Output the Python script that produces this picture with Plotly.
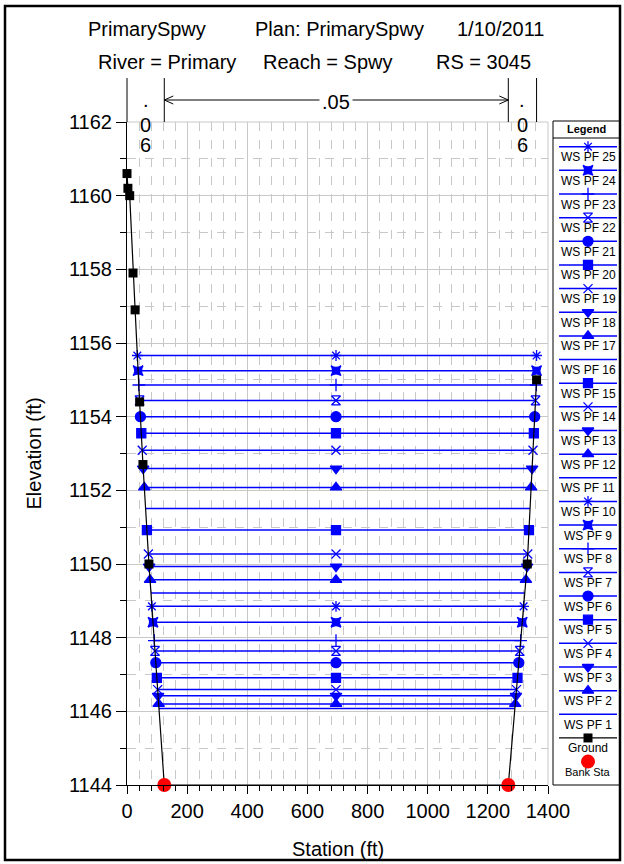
import plotly.graph_objects as go

W, H = 624, 864

# ---------------- data ----------------
ground_sta = [0, 3, 9, 20, 27, 42, 53, 73, 124, 1268, 1331, 1362]
ground_elev = [1160.6, 1160.2, 1160.0, 1157.9, 1156.9, 1154.4, 1152.7, 1150.0,
               1144.0, 1144.0, 1150.0, 1155.0]
bank_sta = [124, 1268]
bank_elev = [1144.0, 1144.0]

profiles = [f"WS PF {i}" for i in range(1, 26)]
ws_elev = [1146.08, 1146.20, 1146.42, 1146.59, 1146.91, 1147.32, 1147.64, 1147.92,
           1148.42, 1148.85, 1149.21, 1149.57, 1149.93, 1150.27, 1150.92, 1151.51,
           1152.08, 1152.59, 1153.09, 1153.55, 1154.00, 1154.44, 1154.86, 1155.25,
           1155.66]
ws_left = [106.3, 105.3, 103.4, 102.0, 99.3, 95.8, 93.1, 90.7, 86.4, 82.8, 79.7,
           76.7, 73.6, 71.0, 66.2, 61.8, 57.6, 53.8, 50.5, 47.5, 44.6, 41.8, 39.2,
           36.9, 34.4]
ws_right = [1289.8, 1291.1, 1293.4, 1295.2, 1298.6, 1302.9, 1306.2, 1309.2, 1314.4,
            1318.9, 1322.7, 1326.5, 1330.3, 1332.7, 1336.7, 1340.4, 1343.9, 1347.1,
            1350.2, 1353.0, 1355.8, 1358.5, 1361.1, 1362.0, 1362.0]
ws_mid = 695

n_breaks = [0, 124, 1268, 1362]
n_values = [".06", ".05", ".06"]

x_ticks = [0, 200, 400, 600, 800, 1000, 1200, 1400]
y_ticks = [1144, 1146, 1148, 1150, 1152, 1154, 1156, 1158, 1160, 1162]

# ---------------- style ----------------
ws_symbol = [None, 'triangle-up', 'triangle-down', 'x-thin-open', 'square', 'circle',
             'hourglass-open', 'cross-thin-open', 'star-square', 'asterisk-open',
             None, 'triangle-up', 'triangle-down', 'x-thin-open', 'square', None,
             'triangle-up', 'triangle-down', 'x-thin-open', 'square', 'circle',
             'hourglass-open', 'cross-thin-open', 'star-square', 'asterisk-open']
BLUE = '#0000FF'
FONT = 'Liberation Sans, Arial, sans-serif'
GRID = '#c8c8c8'
FS = 20
LFS = 12

# plot area in pixels
PL, PR, PT, PB = 127, 548, 122, 785
XMIN, XMAX, YMIN, YMAX = 0, 1400, 1144, 1162


def px(x):
    return x / W


def py(y):
    return 1 - y / H


def sta_px(s):
    return PL + (s - XMIN) / (XMAX - XMIN) * (PR - PL)


def msize(sym):
    if sym == 'square':
        return 9
    if sym == 'circle':
        return 10
    if sym in ('triangle-up', 'triangle-down'):
        return 10
    return 9


def ann(text, x, y, size=FS, **kw):
    d = dict(text=text, x=x, y=y, xref='paper', yref='paper', showarrow=False,
             xanchor='center', yanchor='middle',
             font=dict(family=FONT, size=size, color='black'))
    d.update(kw)
    return d


fig = go.Figure()

# water surface profiles
for name, e, l, r, sym in zip(profiles, ws_elev, ws_left, ws_right, ws_symbol):
    tr = dict(x=[l, ws_mid, r], y=[e, e, e], name=name,
              line=dict(color=BLUE, width=1.5), cliponaxis=False,
              showlegend=False, hoverinfo='name+y')
    if sym:
        tr['mode'] = 'lines+markers'
        tr['marker'] = dict(symbol=sym, size=msize(sym), color=BLUE,
                            line=dict(color=BLUE, width=1.3))
    else:
        tr['mode'] = 'lines'
    fig.add_trace(go.Scatter(**tr))

# ground
fig.add_trace(go.Scatter(x=ground_sta, y=ground_elev, mode='lines+markers', name='Ground',
                         line=dict(color='black', width=1.2),
                         marker=dict(symbol='square', size=9, color='black'),
                         cliponaxis=False, showlegend=False))
# bank stations
fig.add_trace(go.Scatter(x=bank_sta, y=bank_elev, mode='markers', name='Bank Sta',
                         marker=dict(symbol='circle', size=14, color='#FF0000'),
                         cliponaxis=False, showlegend=False))

shapes = []
annotations = []

# plot frame: top & right gray
shapes.append(dict(type='line', xref='paper', yref='paper', x0=px(PL), x1=px(PR),
                   y0=py(PT), y1=py(PT), line=dict(color=GRID, width=1)))
shapes.append(dict(type='line', xref='paper', yref='paper', x0=px(PR), x1=px(PR),
                   y0=py(PT), y1=py(PB), line=dict(color=GRID, width=1)))

# Manning's n break lines above plot
NTOP = 78
for s in n_breaks:
    shapes.append(dict(type='line', xref='paper', yref='paper', x0=px(sta_px(s)),
                       x1=px(sta_px(s)), y0=py(NTOP), y1=py(PT),
                       line=dict(color='black', width=1)))

# .05 arrow across main channel
AY = 100
xa, xb = sta_px(n_breaks[1]), sta_px(n_breaks[2])
shapes.append(dict(type='line', xref='paper', yref='paper', x0=px(xa), x1=px(xb),
                   y0=py(AY), y1=py(AY), line=dict(color='black', width=1)))
for xe, d in ((xa, 1), (xb, -1)):
    shapes.append(dict(type='path', xref='paper', yref='paper',
                       path=f"M {px(xe + d*9)},{py(AY-4)} L {px(xe)},{py(AY)} L {px(xe + d*9)},{py(AY+4)}",
                       line=dict(color='black', width=1)))

# n labels
for i, txt in enumerate(n_values):
    cx = sta_px((n_breaks[i] + n_breaks[i + 1]) / 2)
    if i == 1:
        annotations.append(ann(txt, px(cx), py(102), bgcolor='white', borderpad=2))
    else:
        for ch, yy in zip(txt, (100, 125, 145)):
            annotations.append(ann(ch, px(cx), py(yy)))

# titles
for txt, cx, cy in (("PrimarySpwy", 147, 29), ("Plan: PrimarySpwy", 340, 29),
                    ("1/10/2011", 501, 29), ("River = Primary", 167, 62),
                    ("Reach = Spwy", 328, 62), ("RS = 3045", 483, 62)):
    annotations.append(ann(txt, px(cx), py(cy)))

# axis titles
annotations.append(ann("Elevation (ft)", px(33), py((PT + PB) / 2), textangle=-90))
annotations.append(ann("Station (ft)", px((PL + PR) / 2), py(849)))

# outer border
shapes.append(dict(type='rect', xref='paper', yref='paper', x0=px(5), x1=px(620),
                   y0=py(6), y1=py(860), line=dict(color='black', width=2.5)))

# ---------------- custom legend ----------------
LL, LR, LT, LB = 553, 620, 121, 785
shapes.append(dict(type='rect', xref='paper', yref='paper', x0=px(LL), x1=px(LR),
                   y0=py(LT), y1=py(LB), line=dict(color='black', width=1),
                   fillcolor='white', layer='below'))
shapes.append(dict(type='line', xref='paper', yref='paper', x0=px(LL), x1=px(LR),
                   y0=py(138), y1=py(138), line=dict(color='black', width=1)))
annotations.append(ann("<b>Legend</b>", px((LL + LR) / 2), py(129), size=11))

STEP = 23.65
Y0 = 146.7
LX0, LX1, LXC = 559, 617, 588
entries = list(zip(profiles, ws_symbol))[::-1]
for k, (name, sym) in enumerate(entries):
    ly = Y0 + k * STEP
    fig.add_trace(go.Scatter(x=[LX0, LX1], y=[ly, ly], mode='lines', xaxis='x2', yaxis='y2',
                             line=dict(color=BLUE, width=1.5), showlegend=False,
                             hoverinfo='skip'))
    if sym:
        fig.add_trace(go.Scatter(x=[LXC], y=[ly], mode='markers', xaxis='x2', yaxis='y2',
                                 marker=dict(symbol=sym, size=msize(sym), color=BLUE,
                                             line=dict(color=BLUE, width=1.3)),
                                 showlegend=False, hoverinfo='skip', cliponaxis=False))
    annotations.append(ann(name, LXC, ly + 10.5, size=LFS, xref='x2', yref='y2'))

gy = Y0 + 25 * STEP
fig.add_trace(go.Scatter(x=[LX0, LX1], y=[gy, gy], mode='lines', xaxis='x2', yaxis='y2',
                         line=dict(color='black', width=1.2), showlegend=False, hoverinfo='skip'))
fig.add_trace(go.Scatter(x=[LXC], y=[gy], mode='markers', xaxis='x2', yaxis='y2',
                         marker=dict(symbol='square', size=9, color='black'),
                         showlegend=False, hoverinfo='skip', cliponaxis=False))
annotations.append(ann("Ground", LXC, gy + 10.5, size=LFS, xref='x2', yref='y2'))
by = Y0 + 26 * STEP
fig.add_trace(go.Scatter(x=[LXC], y=[by], mode='markers', xaxis='x2', yaxis='y2',
                         marker=dict(symbol='circle', size=14, color='#FF0000'),
                         showlegend=False, hoverinfo='skip', cliponaxis=False))
annotations.append(ann("Bank Sta", LXC, by + 10.5, size=11, xref='x2', yref='y2'))

fig.update_layout(
    width=W, height=H, template='none',
    margin=dict(l=0, r=0, t=0, b=0, pad=0),
    paper_bgcolor='white', plot_bgcolor='white',
    font=dict(family=FONT, size=FS, color='black'),
    showlegend=False,
    shapes=shapes, annotations=annotations,
    xaxis=dict(domain=[px(PL), px(PR)], range=[XMIN, XMAX], tickvals=x_ticks,
               ticks='outside', ticklen=8, tickcolor='black', tickwidth=1,
               showline=True, linecolor='black', linewidth=1,
               showgrid=True, gridcolor=GRID, gridwidth=1, zeroline=False,
               tickfont=dict(family=FONT, size=FS, color='black'), automargin=False,
               minor=dict(dtick=40, tick0=0, ticks='outside', ticklen=5, tickcolor='black',
                          showgrid=True, gridcolor=GRID, griddash='dash', gridwidth=1)),
    yaxis=dict(domain=[py(PB), py(PT)], range=[YMIN, YMAX], tickvals=y_ticks,
               ticks='outside', ticklen=10, tickcolor='black', tickwidth=1,
               showline=True, linecolor='black', linewidth=1,
               showgrid=True, gridcolor=GRID, gridwidth=1, zeroline=False,
               tickfont=dict(family=FONT, size=FS, color='black'), automargin=False,
               minor=dict(dtick=1, tick0=1144, ticks='outside', ticklen=6, tickcolor='black',
                          showgrid=True, gridcolor=GRID, griddash='dash', gridwidth=1)),
    xaxis2=dict(domain=[px(LL), px(LR)], range=[LL, LR], visible=False, fixedrange=True,
                anchor='y2'),
    yaxis2=dict(domain=[py(LB), py(LT)], range=[LB, LT], visible=False, fixedrange=True,
                anchor='x2'),
)

fig.write_html("out.html", config={'displayModeBar': False},
               post_script="document.body.style.margin='0px';document.body.style.overflow='hidden';")
